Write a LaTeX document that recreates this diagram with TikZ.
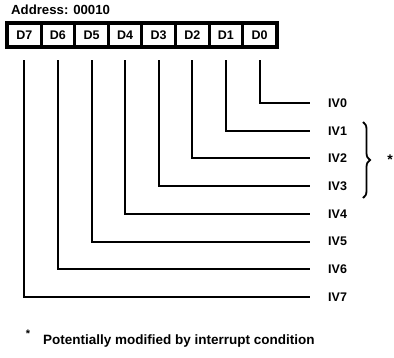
\documentclass[tikz,border=0pt]{standalone}
\usepackage{fontspec}
\setmainfont{Liberation Sans}
\usetikzlibrary{decorations.pathreplacing}
\begin{document}
\begin{tikzpicture}[x=1pt,y=-1pt,
  cell/.style={fill=white,minimum width=30.5pt,minimum height=20pt,inner sep=0pt,
    font=\fontsize{12.5}{14}\selectfont\bfseries},
  ivlabel/.style={anchor=west,inner sep=0pt,font=\fontsize{12.5}{14}\selectfont\bfseries},
  conn/.style={line width=2pt},
  txt/.style={inner sep=0pt,anchor=base west}]
\useasboundingbox (0,0) rectangle (394,357);
\node[txt,font=\fontsize{13.2}{15}\selectfont\bfseries] (addr) at (11,14) {Address: 00010};
\fill (5,21) rectangle (279,49);
\foreach \k in {0,...,7}{
  \pgfmathsetmacro{\cx}{24.3+33.6*(7-\k)}
  \pgfmathsetmacro{\ry}{103+27.7*\k}
  \node[cell] (d\k) at (\cx,35) {D\k};
  \node[ivlabel] (iv\k) at (328,\ry) {IV\k};
  \draw[conn,shorten >=18pt] ([yshift=-15pt]d\k.south) |- (iv\k.west);
}
\draw[line width=1.8pt,decorate,decoration={brace,amplitude=7pt}] (363,122) -- (363,198) coordinate[pos=0.5] (bm);
\node[inner sep=0pt,font=\fontsize{14}{14}\selectfont\bfseries] (star) at (390,160) {*};
\node[inner sep=0pt,font=\fontsize{11}{12}\selectfont\bfseries] (fstar) at (28,334) {*};
\node[txt,font=\fontsize{13.5}{15}\selectfont\bfseries] (foot) at (43,344) {Potentially modified by interrupt condition};
\end{tikzpicture}
\end{document}
